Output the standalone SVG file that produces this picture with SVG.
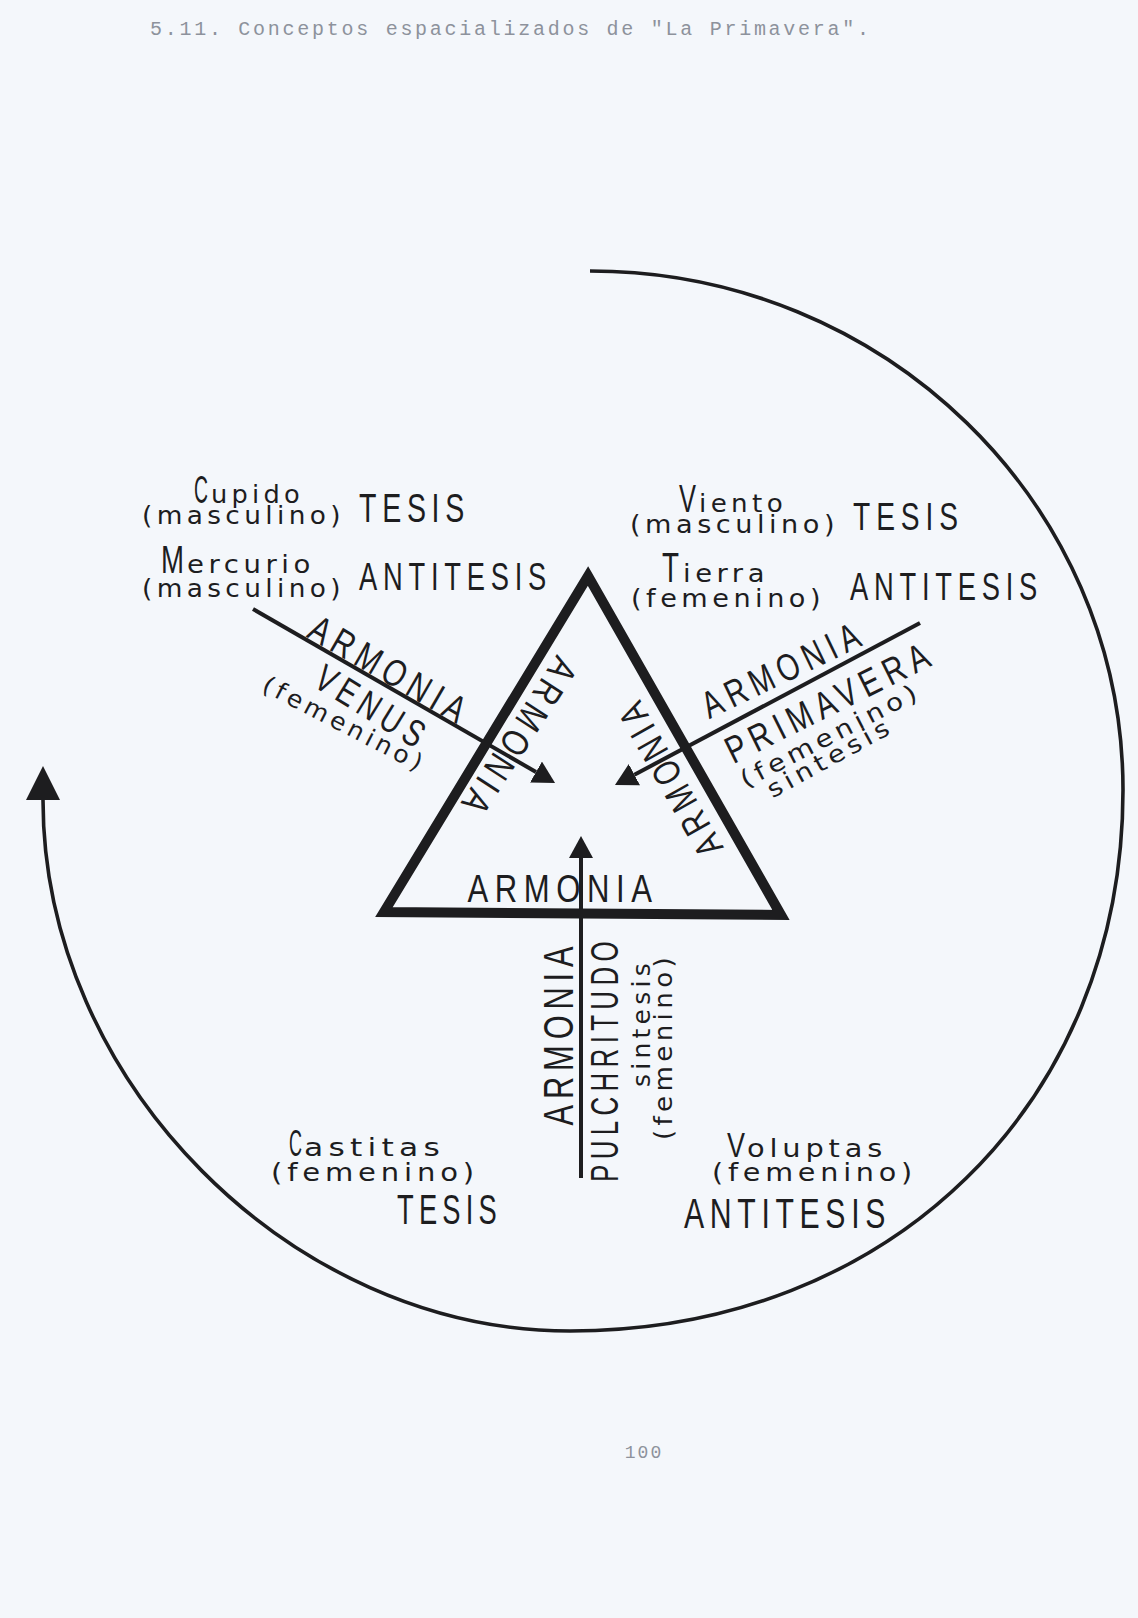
<svg xmlns="http://www.w3.org/2000/svg" width="1138" height="1618" viewBox="0 0 1138 1618">
<defs>
<style>
.bg{fill:#f4f7fb}
.k{font-family:"Liberation Sans Narrow","Liberation Sans",Arial,sans-serif;font-size:38px;letter-spacing:8px;fill:#1d1d1f}
.kc{font-family:"Liberation Sans Narrow","Liberation Sans",Arial,sans-serif;font-size:38px;letter-spacing:0px;fill:#1d1d1f}
.w{font-family:"DejaVu Sans","Liberation Sans",Arial,sans-serif;font-size:24px;letter-spacing:4px;fill:#1d1d1f}
.mono{font-family:"Liberation Mono","DejaVu Sans Mono",monospace;font-size:20px;fill:#8d929c}
.ln{fill:none;stroke:#1d1d1f;stroke-width:4}
.arc{fill:none;stroke:#1d1d1f;stroke-width:3.6}
.tri{fill:none;stroke:#1d1d1f;stroke-width:10;stroke-linejoin:miter;stroke-miterlimit:10}
</style>
<marker id="ah" markerUnits="userSpaceOnUse" viewBox="0 0 22 24" refX="0" refY="12" markerWidth="22" markerHeight="24" orient="auto"><path d="M0,0 L22,12 L0,24 Z" fill="#1d1d1f"/></marker>
<marker id="ahBig" markerUnits="userSpaceOnUse" viewBox="0 0 34 34" refX="0" refY="17" markerWidth="34" markerHeight="34" orient="auto"><path d="M0,0 L34,17 L0,34 Z" fill="#1d1d1f"/></marker>
</defs>
<rect class="bg" x="0" y="0" width="1138" height="1618"/>

<g id="title"><text class="mono" x="150" y="35" textLength="719" lengthAdjust="spacing">5.11. Conceptos espacializados de "La Primavera".</text></g>

<g id="connectors">
<path id="cycle" class="arc" d="M 590 271 C 884 271, 1123 503, 1123 790 C 1123 1104, 889 1331, 570 1331 C 291 1331, 43 1081, 43 800" marker-end="url(#ahBig)"/>
<path id="venus-arrow" class="ln" d="M 253 609 L 536 772" marker-end="url(#ah)"/>
<path id="primavera-arrow" class="ln" d="M 920 623 L 634.4 774.7" marker-end="url(#ah)"/>
<path id="pulchritudo-arrow" class="ln" d="M 581 1178 L 581 858" marker-end="url(#ah)"/>
</g>

<g id="triangle">
<polygon class="tri" points="588,576 781,915 384,912"/>
<text class="k" x="563" y="902" text-anchor="middle" textLength="191" lengthAdjust="spacingAndGlyphs">ARMONIA</text>
<text class="k" transform="translate(520 736) rotate(123)" x="3" y="13.6" text-anchor="middle" textLength="184" lengthAdjust="spacingAndGlyphs">ARMONIA</text>
<text class="k" transform="translate(670 780) rotate(-119.6)" x="3" y="13.6" text-anchor="middle" textLength="177" lengthAdjust="spacingAndGlyphs">ARMONIA</text>
</g>

<g id="cupido">
<text class="w" y="503"><tspan class="kc" x="194" textLength="14" lengthAdjust="spacingAndGlyphs">C</tspan><tspan x="211" textLength="93" lengthAdjust="spacingAndGlyphs">upido</tspan></text>
<text class="w" x="142" y="524" textLength="203" lengthAdjust="spacingAndGlyphs">(masculino)</text>
<text class="k" x="359" y="522" textLength="111" lengthAdjust="spacingAndGlyphs" style="font-size:40px">TESIS</text>
</g>

<g id="mercurio">
<text class="w" y="573"><tspan class="kc" x="161" textLength="23" lengthAdjust="spacingAndGlyphs" style="font-size:39px">M</tspan><tspan x="187" textLength="128" lengthAdjust="spacingAndGlyphs">ercurio</tspan></text>
<text class="w" x="142" y="597" textLength="203" lengthAdjust="spacingAndGlyphs">(masculino)</text>
<text class="k" x="359" y="590" textLength="193" lengthAdjust="spacingAndGlyphs">ANTITESIS</text>
</g>

<g id="viento">
<text class="w" y="512"><tspan class="kc" x="679" textLength="17" lengthAdjust="spacingAndGlyphs">V</tspan><tspan x="699" textLength="88" lengthAdjust="spacingAndGlyphs">iento</tspan></text>
<text class="w" x="630" y="533" textLength="209" lengthAdjust="spacingAndGlyphs">(masculino)</text>
<text class="k" x="853" y="530" textLength="111" lengthAdjust="spacingAndGlyphs">TESIS</text>
</g>

<g id="tierra">
<text class="w" y="582"><tspan class="kc" x="662" textLength="17" lengthAdjust="spacingAndGlyphs" style="font-size:42px">T</tspan><tspan x="683" textLength="86" lengthAdjust="spacingAndGlyphs">ierra</tspan></text>
<text class="w" x="631" y="607" textLength="194" lengthAdjust="spacingAndGlyphs">(femenino)</text>
<text class="k" x="850" y="600" textLength="193" lengthAdjust="spacingAndGlyphs">ANTITESIS</text>
</g>

<g id="venus">
<text class="k" transform="translate(388 668.5) rotate(30.1)" x="3" y="13.6" text-anchor="middle" textLength="181" lengthAdjust="spacingAndGlyphs">ARMONIA</text>
<text class="k" transform="translate(370.5 705.5) rotate(31.6)" x="3" y="13.6" text-anchor="middle" textLength="127" lengthAdjust="spacingAndGlyphs">VENUS</text>
<text class="w" transform="translate(342 725) rotate(27.4)" x="2" y="6.6" text-anchor="middle" textLength="181" lengthAdjust="spacingAndGlyphs">(femenino)</text>
</g>

<g id="primavera">
<text class="k" transform="translate(780.5 670) rotate(-25.7)" x="3" y="13.6" text-anchor="middle" textLength="177" lengthAdjust="spacingAndGlyphs">ARMONIA</text>
<text class="k" transform="translate(827 702.5) rotate(-26.4)" x="3" y="13.6" text-anchor="middle" textLength="229" lengthAdjust="spacingAndGlyphs">PRIMAVERA</text>
<text class="w" transform="translate(829.5 737.5) rotate(-27.3)" x="2" y="6.6" text-anchor="middle" textLength="200" lengthAdjust="spacingAndGlyphs">(femenino)</text>
<text class="w" transform="translate(829 760) rotate(-28.8)" x="2" y="6.6" text-anchor="middle" textLength="140" lengthAdjust="spacingAndGlyphs">sintesis</text>
</g>

<g id="pulchritudo">
<text class="k" transform="translate(557.5 1036) rotate(-90)" x="3" y="15" text-anchor="middle" textLength="185" lengthAdjust="spacingAndGlyphs" style="font-size:42px">ARMONIA</text>
<text class="k" transform="translate(604 1062) rotate(-90)" x="3" y="14" text-anchor="middle" textLength="246" lengthAdjust="spacingAndGlyphs" style="font-size:39px">PULCHRITUDO</text>
<text class="w" transform="translate(643 1025) rotate(-90)" x="2" y="6.6" text-anchor="middle" textLength="128" lengthAdjust="spacingAndGlyphs">sintesis</text>
<text class="w" transform="translate(665 1048.5) rotate(-90)" x="2" y="6.6" text-anchor="middle" textLength="187" lengthAdjust="spacingAndGlyphs">(femenino)</text>
</g>

<g id="castitas">
<text class="w" y="1156"><tspan class="kc" x="289" textLength="13" lengthAdjust="spacingAndGlyphs" style="font-size:36px">C</tspan><tspan x="304" textLength="141" lengthAdjust="spacingAndGlyphs">astitas</tspan></text>
<text class="w" x="271" y="1181" textLength="208" lengthAdjust="spacingAndGlyphs">(femenino)</text>
<text class="k" x="397" y="1224" textLength="105" lengthAdjust="spacingAndGlyphs" style="font-size:42px">TESIS</text>
</g>

<g id="voluptas">
<text class="w" y="1157"><tspan class="kc" x="727" textLength="18" lengthAdjust="spacingAndGlyphs" style="font-size:35px">V</tspan><tspan x="747" textLength="140" lengthAdjust="spacingAndGlyphs">oluptas</tspan></text>
<text class="w" x="712" y="1181" textLength="205" lengthAdjust="spacingAndGlyphs">(femenino)</text>
<text class="k" x="684" y="1228" textLength="207" lengthAdjust="spacingAndGlyphs" style="font-size:43px">ANTITESIS</text>
</g>

<g id="page-number"><text class="mono" x="644" y="1458" text-anchor="middle" style="font-size:18px;letter-spacing:2px">100</text></g>
</svg>
